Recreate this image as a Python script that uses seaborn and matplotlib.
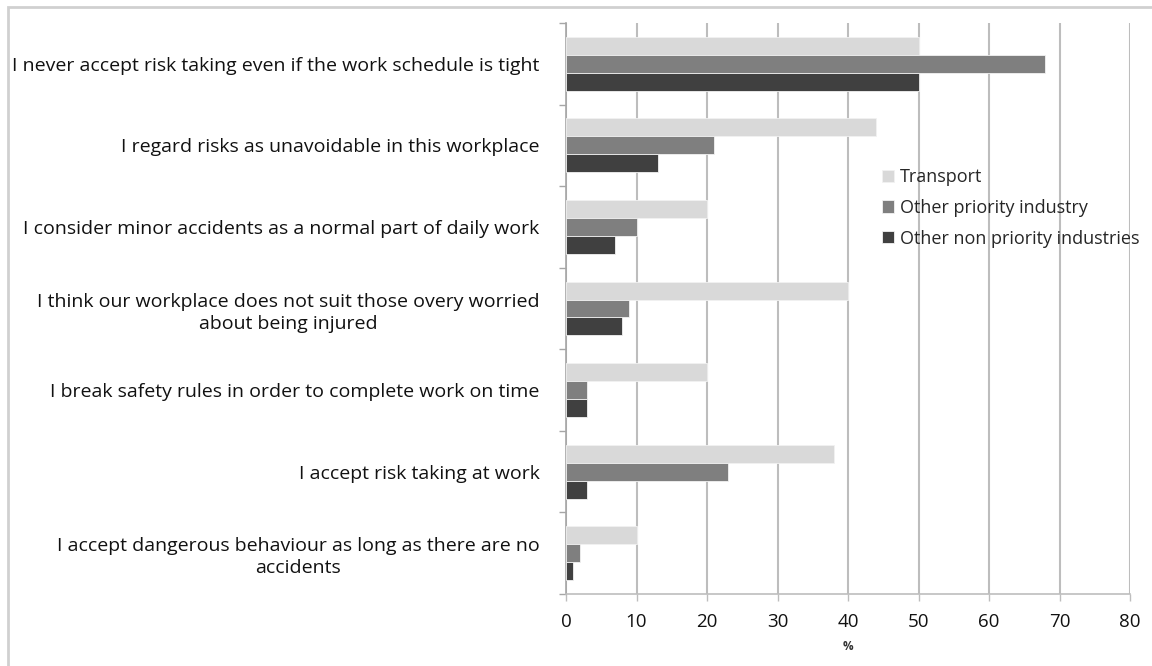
import matplotlib
matplotlib.use('Agg')
import matplotlib.pyplot as plt
import seaborn as sns
import pandas as pd
from matplotlib.patches import Rectangle

statements = [
    'I never accept risk taking even if the work schedule is tight',
    'I regard risks as unavoidable in this workplace',
    'I consider minor accidents as a normal part of daily work',
    'I think our workplace does not suit those overy worried\nabout being injured',
    'I break safety rules in order to complete work on time',
    'I accept risk taking at work',
    'I accept dangerous behaviour as long as there are no\naccidents',
]
sectors = ['Transport', 'Other priority industry', 'Other non priority industries']
transport = [50, 44, 20, 40, 20, 38, 10]
other_priority = [68, 21, 10, 9, 3, 23, 2]
other_non_priority = [50, 13, 7, 8, 3, 3, 1]
colors = ['#d9d9d9', '#7f7f7f', '#404040']
x_ticks = [0, 10, 20, 30, 40, 50, 60, 70, 80]

rows = []
for s, vals in zip(sectors, [transport, other_priority, other_non_priority]):
    for st, v in zip(statements, vals):
        rows.append({'statement': st, 'sector': s, 'value': v})
df = pd.DataFrame(rows)

sns.set_style('white')
plt.rcParams['font.family'] = ['Open Sans', 'DejaVu Sans']

fig = plt.figure(figsize=(11.52, 6.66), dpi=100)
ax = fig.add_axes([566 / 1152, 72 / 666, (1130 - 566) / 1152, (594 - 23) / 666])

sns.barplot(data=df, y='statement', x='value', hue='sector', orient='h',
            palette=colors, width=0.66, saturation=1, ax=ax,
            edgecolor='#f2f2f2', linewidth=0.6, zorder=3)

ax.set_xlim(0, 80)
ax.set_ylim(6.5, -0.5)
ax.set_xticks(x_ticks)
ax.set_xticklabels([str(t) for t in x_ticks], fontsize=13.5, color='#111111')
ax.xaxis.grid(True, color='#bdbdbd', linewidth=1.5, zorder=0)
ax.set_axisbelow(True)

# category labels at centres, small ticks at band boundaries
ax.set_yticks(range(len(statements)))
ax.set_yticklabels(statements, fontsize=14, color='#111111', multialignment='center',
                   linespacing=1.3)
ax.tick_params(axis='y', which='major', length=0, pad=19)
ax.set_yticks([i - 0.5 for i in range(len(statements) + 1)], minor=True)
ax.tick_params(axis='y', which='minor', length=5, width=1, color='#a6a6a6', left=True)
ax.tick_params(axis='x', which='major', length=5, width=1, color='#bdbdbd', bottom=True, pad=9)

for side in ['top', 'right']:
    ax.spines[side].set_visible(False)
ax.spines['left'].set_color('#a6a6a6')
ax.spines['bottom'].set_color('#bdbdbd')
ax.spines['left'].set_linewidth(1.2)
ax.spines['bottom'].set_linewidth(1.2)

ax.set_ylabel('')
ax.set_xlabel('%', fontsize=8.5, fontweight='bold', color='#333333', labelpad=6)

ax.legend(loc='upper left', bbox_to_anchor=(875 / 1152, 1 - 161 / 666),
          bbox_transform=fig.transFigure, frameon=False, fontsize=13,
          handlelength=0.65, handleheight=0.65, handletextpad=0.35,
          labelspacing=0.7, borderaxespad=0)

fig.patches.append(Rectangle((8 / 1152, -0.01), 1.02, 1 - 7 / 666 + 0.01,
                             transform=fig.transFigure, fill=False,
                             edgecolor='#d0d0d0', linewidth=2))

fig.savefig('out.png', dpi=100)
